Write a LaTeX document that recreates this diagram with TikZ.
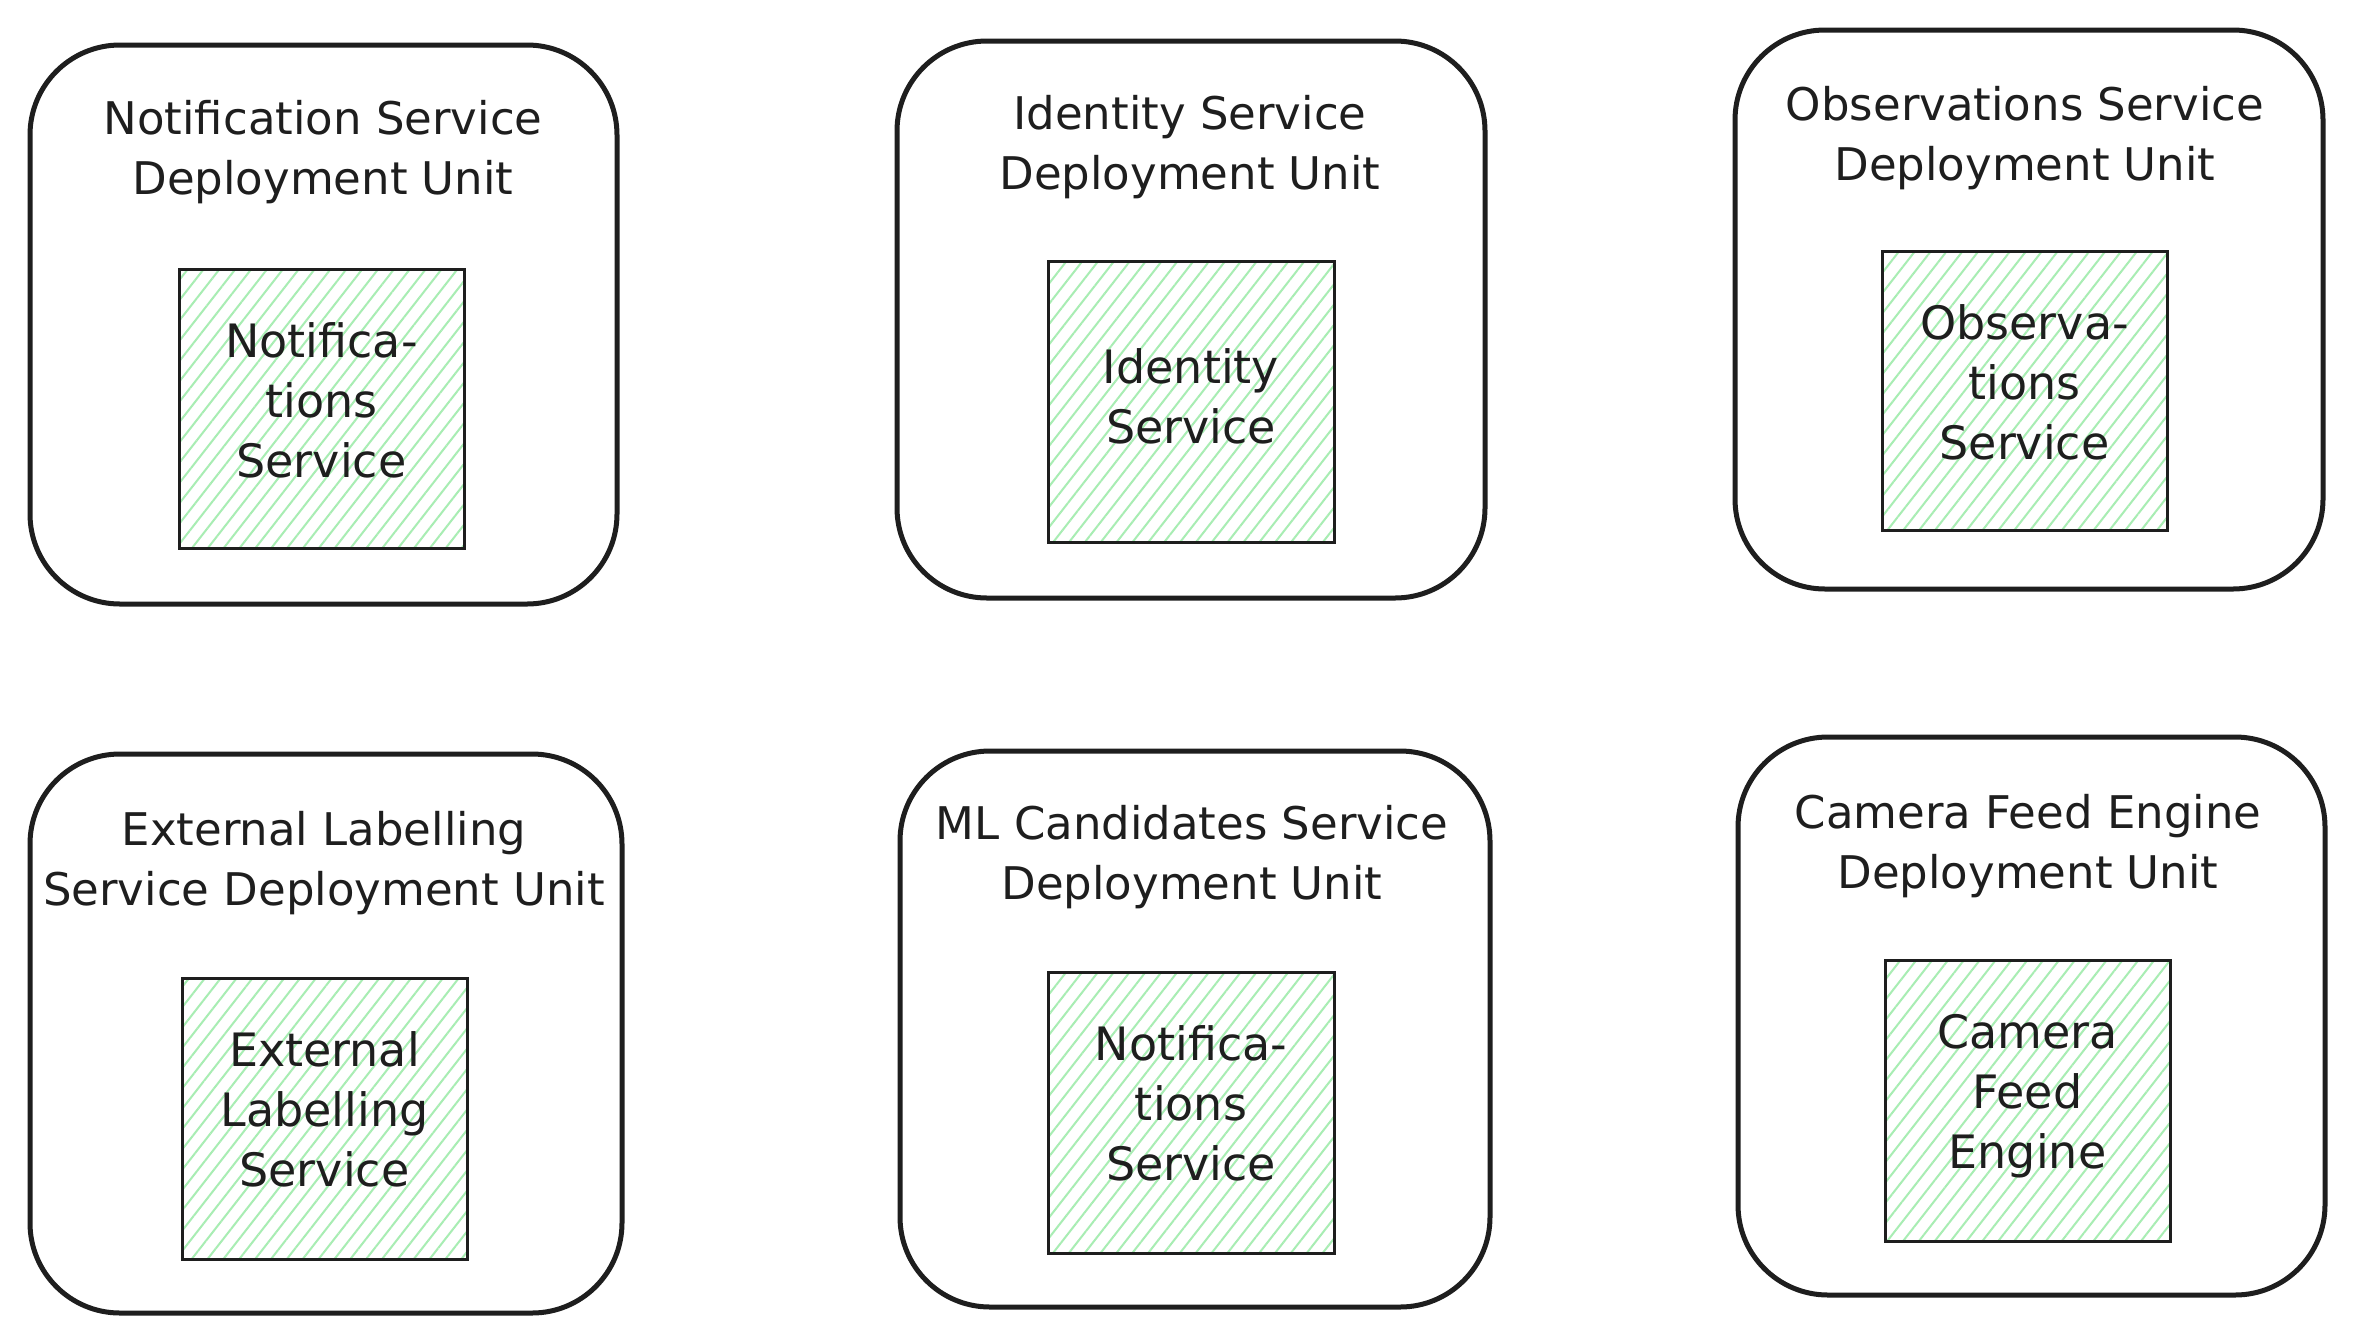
\documentclass[tikz,border=0pt]{standalone}
\usepackage{fontspec}
\setmainfont{DejaVu Sans}
\usetikzlibrary{patterns.meta}
\definecolor{ink}{HTML}{1E1E1E}
\definecolor{hatch}{HTML}{A8EDB3}
\tikzset{
  unitbox/.style={draw=ink, line width=5pt, rounded corners=90pt, fill=white},
  svcbox/.style={fill=white,
    postaction={pattern={Lines[angle=52,distance=12.5pt,line width=2pt]}, pattern color=hatch},
    postaction={draw=ink, line width=3pt}},
  svctext/.style={align=center, text=ink, font=\fontsize{46}{60}\selectfont},
  title/.style={align=center, text=ink, font=\fontsize{45}{60}\selectfont}
}
\begin{document}
\begin{tikzpicture}[x=1pt,y=-1pt]
\useasboundingbox[fill=white] (0,0) rectangle (2355,1342);
% outer deployment units
\node[unitbox, minimum width=587pt, minimum height=559pt] (o1) at (323.5,324.5) {};
\node[unitbox, minimum width=588pt, minimum height=557pt] (o2) at (1191,319.5) {};
\node[unitbox, minimum width=588pt, minimum height=559pt] (o3) at (2029,309.5) {};
\node[unitbox, minimum width=592pt, minimum height=559pt] (o4) at (326,1033.5) {};
\node[unitbox, minimum width=590pt, minimum height=556pt] (o5) at (1195,1029) {};
\node[unitbox, minimum width=587pt, minimum height=558pt] (o6) at (2031.5,1016) {};
% titles
\node[title] (t1) at (323,152) {Notification Service\\Deployment Unit};
\node[title] (t2) at (1190,147) {Identity Service\\Deployment Unit};
\node[title] (t3) at (2025,138) {Observations Service\\Deployment Unit};
\node[title] (t4) at (324,863) {External Labelling\\Service Deployment Unit};
\node[title] (t5) at (1192,857) {ML Candidates Service\\Deployment Unit};
\node[title] (t6) at (2028,846) {Camera Feed Engine\\Deployment Unit};
% inner services
\node[svcbox, minimum width=285pt, minimum height=279pt] (s1) at (321.5,408.5) {};
\node[svcbox, minimum width=286pt, minimum height=281pt] (s2) at (1191,401.5) {};
\node[svcbox, minimum width=285pt, minimum height=279pt] (s3) at (2024.5,390.5) {};
\node[svcbox, minimum width=285pt, minimum height=281pt] (s4) at (324.5,1118.5) {};
\node[svcbox, minimum width=286pt, minimum height=281pt] (s5) at (1191,1112.5) {};
\node[svcbox, minimum width=285pt, minimum height=281pt] (s6) at (2027.5,1100.5) {};
\node[svctext] (l1) at ([yshift=8pt]s1.center) {Notifica-\\tions\\Service};
\node[svctext] (l2) at ([yshift=5pt]s2.center) {Identity\\Service};
\node[svctext] (l3) at ([yshift=8pt]s3.center) {Observa-\\tions\\Service};
\node[svctext] (l4) at ([yshift=9pt]s4.center) {External\\Labelling\\Service};
\node[svctext] (l5) at ([yshift=9pt]s5.center) {Notifica-\\tions\\Service};
\node[svctext] (l6) at ([yshift=4pt]s6.center) {Camera\\Feed\\Engine};
\end{tikzpicture}
\end{document}
